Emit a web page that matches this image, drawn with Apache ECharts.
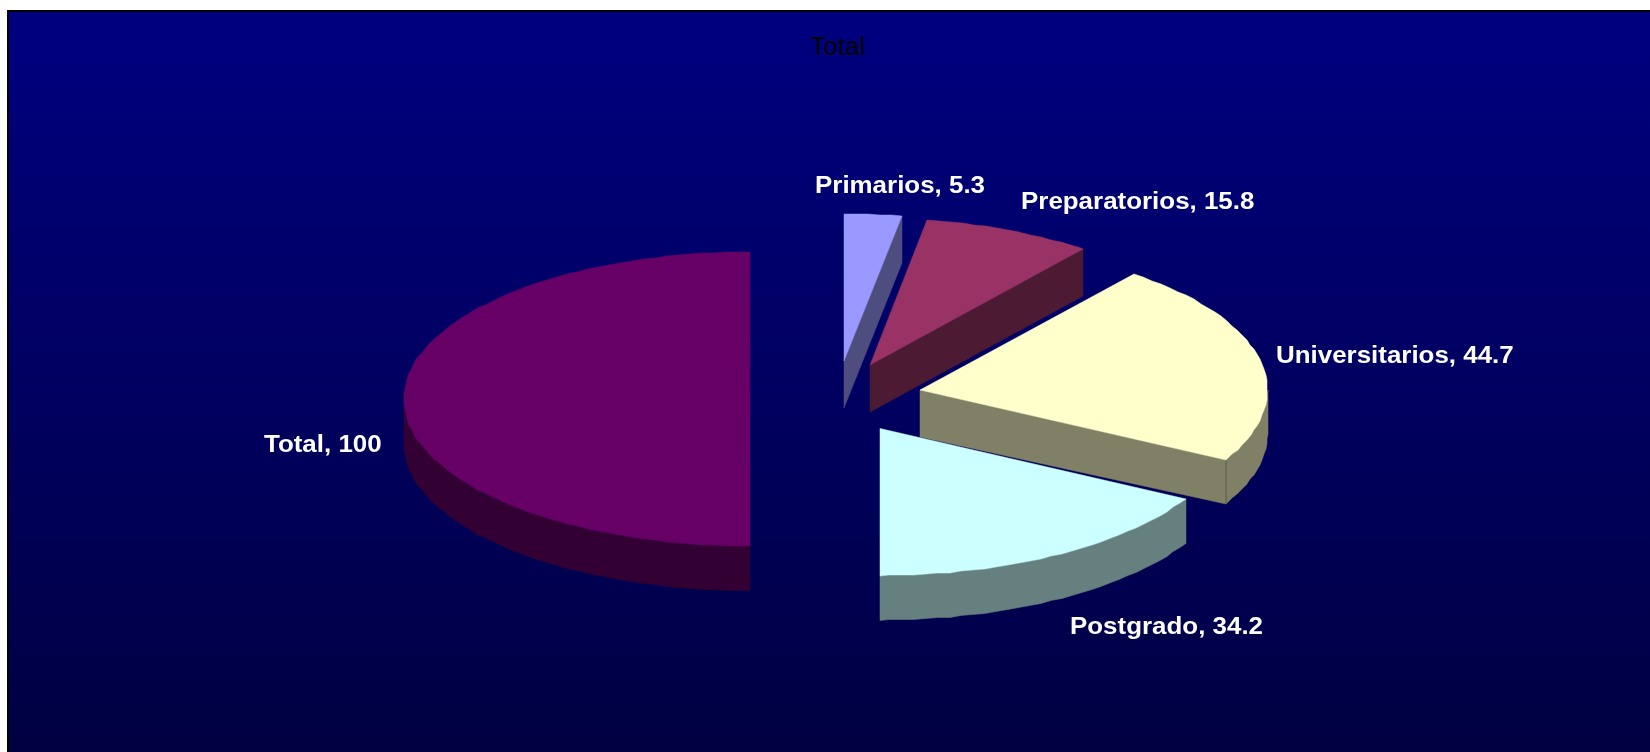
<!DOCTYPE html>
<html>
<head>
<meta charset="utf-8">
<style>html,body{margin:0;padding:0;background:#fff}#c{width:1650px;height:752px}</style>
<script src="https://cdn.jsdelivr.net/npm/echarts@6/dist/echarts.min.js"></script>
</head>
<body>
<div id="c"></div>
<script>
// Data
const titleText = 'Total';
const categories = ['Primarios', 'Preparatorios', 'Universitarios', 'Postgrado', 'Total'];
const values = [5.3, 15.8, 44.7, 34.2, 100];

// Look
const topColors = ['#9999FF', '#993366', '#FFFFCC', '#CCFFFF', '#660066'];
const wallColors = ['#4D4D80', '#4D1A33', '#808066', '#668080', '#330033'];

// Layout of the tilted pie
const CX = 750, CY = 399, RY = 147;
const radiusX = [347, 346, 347.5, 347.5, 346];
const apexDepth = [47, 47, 47, 44.5, 44.5];
const rimDepth = [47, 47, 44, 44.5, 44.5];
const explodeX = [94, 120, 170, 130, 0];
const explodeY = [-38, -34, -9, 29.5, 0];
const labelX = [815, 1021, 1276, 1070, 264];
const labelY = [198.5, 214.5, 368.5, 639.5, 457.5];
const LABEL_FONT = 24, LABEL_STRETCH = 1.08;

const sum = values.reduce((a, b) => a + b, 0);
const startShares = [];
values.reduce((acc, v, i) => { startShares[i] = acc; return acc + v; }, 0);

function rim(i, cx, cy, deg) {
  const t = deg * Math.PI / 180;
  return [Math.round(cx + radiusX[i] * Math.sin(t)), Math.round(cy - RY * Math.cos(t))];
}
function arc(i, cx, cy, a, b) {
  const pts = [];
  const step = 2;
  for (let d = a; d < b; d += step) pts.push(rim(i, cx, cy, d));
  pts.push(rim(i, cx, cy, b));
  return pts;
}

function renderItem(params, api) {
  const i = params.dataIndex;
  const v = api.value(0);
  const a0 = startShares[i] / sum * 360;
  const a1 = a0 + v / sum * 360;
  const cx = CX + explodeX[i], cy = CY + explodeY[i];
  const top = topColors[i], wall = wallColors[i], d = rimDepth[i], dA = apexDepth[i];
  const children = [];
  const poly = (points, fill) => children.push({
    type: 'polygon', shape: { points }, style: { fill, stroke: fill, lineWidth: 0.5 }
  });
  // outer wall: only the part of the rim that faces the viewer
  const w0 = Math.max(a0, 90), w1 = Math.min(a1, 270);
  const hasOuter = w1 > w0;
  if (hasOuter) {
    const upper = arc(i, cx, cy, w0, w1);
    const lower = upper.map(p => [p[0], p[1] + d]).reverse();
    poly(upper.concat(lower), wall);
  }
  // cut wall on the clockwise edge of the slice
  if (a1 > 0.01 && a1 < 179.99) {
    const e = rim(i, cx, cy, a1);
    poly([[cx, cy], e, [e[0], e[1] + d], [cx, cy + dA]], wall);
    if (hasOuter) {
      children.push({
        type: 'line', shape: { x1: e[0], y1: e[1], x2: e[0], y2: e[1] + d },
        style: { stroke: '#5f5f4c', lineWidth: 1 }
      });
    }
  }
  // top face
  poly([[cx, cy]].concat(arc(i, cx, cy, a0, a1)), top);
  // label
  children.push({
    type: 'text',
    x: labelX[i], y: labelY[i], scaleX: LABEL_STRETCH,
    style: {
      text: categories[i] + ', ' + v,
      fill: '#fff',
      font: 'bold ' + LABEL_FONT + 'px "Liberation Sans", Arial, sans-serif',
      textAlign: 'left', textVerticalAlign: 'bottom', verticalAlign: 'alphabetic', textBaseline: 'alphabetic'
    }
  });
  return { type: 'group', children };
}

const chart = echarts.init(document.getElementById('c'), null, { renderer: 'canvas' });
chart.setOption({
  animation: false,
  backgroundColor: '#fff',
  title: {
    text: titleText, left: 805, top: 30,
    textStyle: { color: '#000', fontWeight: 'normal', fontSize: 26, fontFamily: '"Liberation Sans", Arial, sans-serif' }
  },
  graphic: [{
    type: 'rect', z: 0, silent: true,
    shape: { x: 8, y: 11, width: 1660, height: 760 },
    style: {
      stroke: '#000', lineWidth: 2,
      fill: { type: 'linear', x: 0, y: 0, x2: 0, y2: 1, colorStops: [
        { offset: 0, color: '#000080' }, { offset: 1, color: '#000040' }
      ] }
    }
  }],
  series: [{
    type: 'custom', coordinateSystem: 'none', z: 2, silent: true,
    renderItem, data: values.map(v => [v])
  }]
});
</script>
</body>
</html>
